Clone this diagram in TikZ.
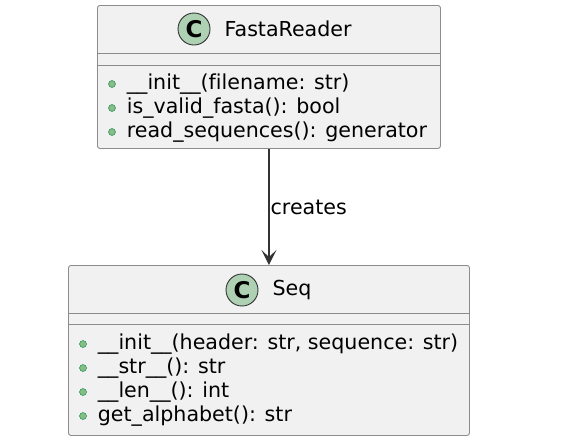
\documentclass[tikz,border=0pt]{standalone}
\usepackage{fontspec}
\setmainfont{DejaVu Sans}[Ligatures=NoCommon]
\usetikzlibrary{positioning}
\usetikzlibrary{arrows.meta}
\definecolor{classfill}{HTML}{F1F1F1}
\definecolor{classline}{HTML}{8C8C8C}
\definecolor{spotfill}{HTML}{ADD1B2}
\definecolor{pubfill}{HTML}{84BE84}
\definecolor{publine}{HTML}{038048}
\definecolor{inkline}{HTML}{333333}
\tikzstyle{classbox}=[draw=classline, fill=classfill, rounded corners=2.5pt, line width=0.9pt, anchor=north west, inner sep=0pt]
\tikzstyle{spot}=[circle, draw=inkline, fill=spotfill, minimum size=32pt, inner sep=0pt, line width=0.9pt, font=\fontsize{23}{26}\selectfont\bfseries]
\tikzstyle{classname}=[font=\fontsize{20.6}{24}\selectfont, inner sep=0pt, anchor=west]
\tikzstyle{pub}=[circle, fill=pubfill, draw=publine, minimum size=7pt, inner sep=0pt, line width=0.4pt]
\tikzstyle{member}=[font=\fontsize{20.6}{24}\selectfont, inner sep=0pt, anchor=west, text height=15pt, text depth=4pt]
\tikzstyle{divider}=[draw=classline, line width=0.9pt]
\tikzstyle{edge}=[draw=inkline, line width=1.4pt, -{Stealth[length=15pt,width=15pt,inset=7pt]}]

\begin{document}
\begin{tikzpicture}[x=1pt,y=-1pt]
    \useasboundingbox[fill=white] (0,0) rectangle (577,445);

    % First we draw the class boxes
    \node[classbox, minimum width=343pt, minimum height=143pt] (reader) at (97,5) {};
    \node[classbox, minimum width=401pt, minimum height=170pt] (seq) at (68,265) {};

    % Header and (empty) field compartments
    \foreach \cls/\ya/\yb in {reader/48/60, seq/48/59}
    {
        \draw[divider] ([yshift=-\ya pt]\cls.north west) -- ([yshift=-\ya pt]\cls.north east);
        \draw[divider] ([yshift=-\yb pt]\cls.north west) -- ([yshift=-\yb pt]\cls.north east);
    }

    % Class spots and names
    \foreach \pos/\name/\label in {{(194,29)/readerspot/FastaReader}, {(242,290)/seqspot/Seq}}
    {
        \node[spot] (\name) at \pos {C};
        \node[classname, right=14pt of \name] (\name-title) {\label};
    }

    % Public methods
    \foreach \pos/\name/\label in {{(112,84)/rinit/{\_\_init\_\_(filename: str)}},
                                   {(112,108)/rvalid/{is\_valid\_fasta(): bool}},
                                   {(112,132)/rread/{read\_sequences(): generator}},
                                   {(83,344)/sinit/{\_\_init\_\_(header: str, sequence: str)}},
                                   {(83,368)/sstr/{\_\_str\_\_(): str}},
                                   {(83,392)/slen/{\_\_len\_\_(): int}},
                                   {(83,416)/salpha/{get\_alphabet(): str}}}
    {
        \node[pub] (\name) at \pos {};
        \node[member, right=11pt of \name] (\name-text) {\label};
    }

    % Connect the classes
    \draw[edge] (reader.south) -- node[right, inner sep=1pt, font=\fontsize{20.6}{24}\selectfont] (createslabel) {creates} (seq.north);
\end{tikzpicture}
\end{document}
